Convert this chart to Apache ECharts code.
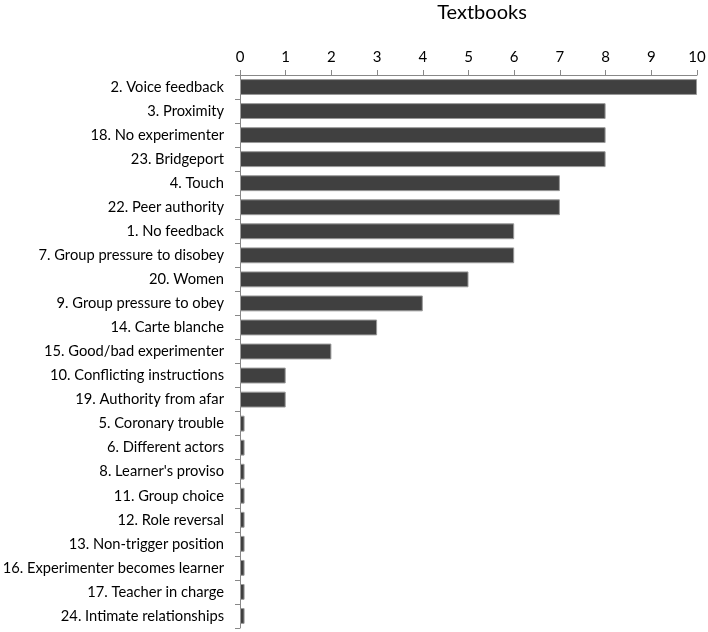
<!DOCTYPE html>
<html><head><meta charset="utf-8">
<script src="https://cdn.jsdelivr.net/npm/echarts@6/dist/echarts.min.js"></script>
<style>html,body{margin:0;padding:0;background:#fff}#c{width:708px;height:632px}</style>
</head><body><div id="c"></div>
<script>
const categories = ["2. Voice feedback","3. Proximity","18. No experimenter","23. Bridgeport","4. Touch","22. Peer authority","1. No feedback","7. Group pressure to disobey","20. Women","9. Group pressure to obey","14. Carte blanche","15. Good/bad experimenter","10. Conflicting instructions","19. Authority from afar","5. Coronary trouble","6. Different actors","8. Learner's proviso","11. Group choice","12. Role reversal","13. Non-trigger position","16. Experimenter becomes learner","17. Teacher in charge","24. Intimate relationships"];
const values = [10,8,8,8,7,7,6,6,5,4,3,2,1,1,0.1,0.1,0.1,0.1,0.1,0.1,0.1,0.1,0.1];
const xTicks = [0,1,2,3,4,5,6,7,8,9,10];
const titleText = "Textbooks";

const chart = echarts.init(document.getElementById('c'));
const font = "Lato, 'Open Sans', sans-serif";
chart.setOption({
  animation:false,
  title:{text:titleText,left:477,top:-2,textAlign:'center',textStyle:{fontFamily:font,fontSize:20,fontWeight:'normal',color:'#000'}},
  grid:{left:240,right:11,top:75,bottom:4,containLabel:false,outerBoundsMode:'none'},
  xAxis:{type:'value',position:'top',min:xTicks[0],max:xTicks[xTicks.length-1],interval:1,
    axisLine:{show:true,lineStyle:{color:'#888'}},
    axisTick:{show:true,length:5,lineStyle:{color:'#888'}},
    splitLine:{show:false},
    axisLabel:{fontFamily:font,fontSize:15,color:'#000',margin:10}},
  yAxis:{type:'category',inverse:true,data:categories,
    axisLine:{show:true,lineStyle:{color:'#888'}},
    axisTick:{show:true,length:5,lineStyle:{color:'#888'}},
    axisLabel:{fontFamily:font,fontSize:14.7,color:'#000',margin:16}},
  series:[{type:'bar',data:values,barCategoryGap:'34%',
    itemStyle:{color:'#404040',borderColor:'#999',borderWidth:1}}]
});
</script></body></html>
